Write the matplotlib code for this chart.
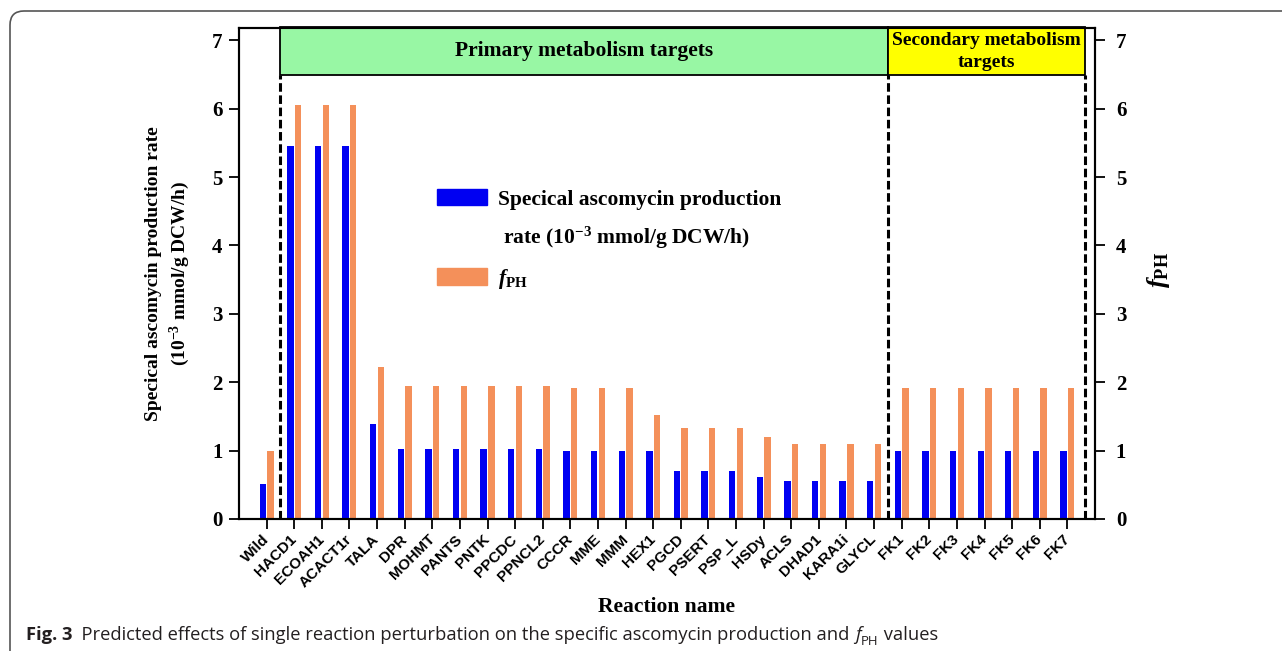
import matplotlib
matplotlib.use('Agg')
import matplotlib.pyplot as plt
import matplotlib.transforms as mtransforms
from matplotlib.patches import Rectangle, Patch, FancyBboxPatch
import numpy as np

plt.rcParams['mathtext.fontset'] = 'custom'
plt.rcParams['mathtext.rm'] = 'Liberation Serif:bold'
plt.rcParams['mathtext.bf'] = 'Liberation Serif:bold'
plt.rcParams['mathtext.it'] = 'Liberation Serif:italic:bold'

reactions = ['Wild', 'HACD1', 'ECOAH1', 'ACACT1r', 'TALA', 'DPR', 'MOHMT', 'PANTS',
             'PNTK', 'PPCDC', 'PPNCL2', 'CCCR', 'MME', 'MMM', 'HEX1', 'PGCD', 'PSERT',
             'PSP_L', 'HSDy', 'ACLS', 'DHAD1', 'KARA1i', 'GLYCL',
             'FK1', 'FK2', 'FK3', 'FK4', 'FK5', 'FK6', 'FK7']
# specific ascomycin production rate (1e-3 mmol/g DCW/h)
rate = [0.51, 5.45, 5.45, 5.45, 1.39, 1.03, 1.03, 1.03,
        1.03, 1.03, 1.03, 1.00, 1.00, 1.00, 1.00, 0.70, 0.70,
        0.70, 0.62, 0.56, 0.56, 0.56, 0.56,
        1.00, 1.00, 1.00, 1.00, 1.00, 1.00, 1.00]
# f_PH
fph = [1.00, 6.06, 6.06, 6.06, 2.23, 1.95, 1.95, 1.95,
       1.95, 1.95, 1.95, 1.91, 1.91, 1.91, 1.52, 1.33, 1.33,
       1.33, 1.20, 1.10, 1.10, 1.10, 1.10,
       1.91, 1.91, 1.91, 1.91, 1.91, 1.91, 1.91]

blue = '#0000F2'
orange = '#F4905A'
serif = 'Liberation Serif'

fig = plt.figure(figsize=(12.82, 6.51), dpi=100)
ax = fig.add_axes([239 / 1282, 1 - 519 / 651, (1095 - 239) / 1282, (519 - 28) / 651])

x = np.arange(len(reactions))
w = 0.23
ax.bar(x - 0.14, rate, w, color=blue, zorder=2)
ax.bar(x + 0.14, fph, w, color=orange, zorder=2)

ax.set_xlim(-1, len(reactions))
ax.set_ylim(0, 7.18)
ax.set_yticks(range(8))
ax.set_xticks(x)
ax.set_xticklabels(reactions, rotation=45, ha='right', va='center', rotation_mode='anchor',
                   fontfamily='Liberation Sans', fontweight='bold', fontsize=11)
ax.tick_params(axis='x', direction='out', length=7, width=1.3, pad=6)
ax.tick_params(axis='y', direction='out', length=7, width=1.3, pad=5)
for lab in ax.get_yticklabels():
    lab.set_fontfamily(serif)
    lab.set_fontweight('bold')
    lab.set_fontsize(15)
for sp in ax.spines.values():
    sp.set_linewidth(1.5)

ax.set_ylabel('Specical ascomycin production rate\n(10$^{\\mathrm{-3}}$ mmol/g DCW/h)',
              fontfamily=serif, fontweight='bold', fontsize=14, linespacing=1.35)
ax.yaxis.set_label_coords(-0.055, 0.5)
ax.set_xlabel('Reaction name', fontfamily=serif, fontweight='bold', fontsize=15.5)
ax.xaxis.set_label_coords(0.5, -0.158)

ax2 = ax.twinx()
ax2.set_ylim(ax.get_ylim())
ax2.set_yticks(range(8))
ax2.tick_params(axis='y', direction='out', length=7, width=1.3, pad=8)
for lab in ax2.get_yticklabels():
    lab.set_fontfamily(serif)
    lab.set_fontweight('bold')
    lab.set_fontsize(15)
ax2.set_ylabel('$\\mathit{f}_{\\mathrm{PH}}$', fontsize=19, rotation=90)
ax2.yaxis.set_label_coords(1.058, 0.507)
for sp in ax2.spines.values():
    sp.set_linewidth(1.5)

# group boxes and separators
ax.add_patch(Rectangle((0.5, 6.5), 22, 0.7, facecolor='#98F7A4', edgecolor='black',
                       lw=1.3, zorder=3, clip_on=False))
ax.add_patch(Rectangle((22.5, 6.5), 7.15, 0.7, facecolor='#FFFF00', edgecolor='black',
                       lw=1.3, zorder=3, clip_on=False))
ax.text(11.5, 6.84, 'Primary metabolism targets', ha='center', va='center',
        fontfamily=serif, fontweight='bold', fontsize=15.5, zorder=4)
ax.text(26.07, 6.84, 'Secondary metabolism\ntargets', ha='center', va='center',
        fontfamily=serif, fontweight='bold', fontsize=14, linespacing=1.35, zorder=4)
ax.vlines([0.5, 22.5, 29.65], 0, 6.5, colors='black', lw=2.2, linestyles=(0, (2.8, 1.2)), zorder=3)

handles = [Patch(color=blue), Patch(color='none'), Patch(color=orange)]
labels = ['Specical ascomycin production',
          ' rate (10$^{\\mathrm{-3}}$ mmol/g DCW/h)',
          '$\\mathit{f}_{\\mathrm{PH}}$']
leg = ax.legend(handles, labels, loc='upper left', bbox_to_anchor=(437 / 1282, 1 - 189 / 651),
                bbox_transform=fig.transFigure, frameon=False, handlelength=2.3,
                handleheight=0.8, handletextpad=0.55, labelspacing=0.72, borderpad=0,
                borderaxespad=0, prop={'family': serif, 'weight': 'bold', 'size': 15.5})

# outer rounded frame (open at the bottom and right, cropped like the source figure)
frame = FancyBboxPatch((10, -40), 1400, 651 - 11 + 40, boxstyle='round,pad=0,rounding_size=14',
                       transform=mtransforms.IdentityTransform(), facecolor='none',
                       edgecolor='#555555', lw=1.2)
fig.patches.append(frame)

# caption
cap_color = '#231F20'
cap_size = 13.2
t1 = fig.text(26 / 1282, 1 - 640 / 651, 'Fig. 3', fontfamily='Open Sans', fontweight='bold',
              fontsize=cap_size, color=cap_color, va='baseline')
t2 = ax.annotate('  Predicted effects of single reaction perturbation on the specific ascomycin production and ',
                 xy=(1, 0), xycoords=t1, va='bottom', ha='left', fontfamily='Open Sans',
                 fontsize=cap_size, color=cap_color, annotation_clip=False)
t3 = ax.annotate('f', xy=(1, 0), xycoords=t2, va='bottom', ha='left', fontfamily='Open Sans',
                 fontstyle='italic', fontsize=cap_size, color=cap_color, annotation_clip=False)
t4 = ax.annotate('PH', xy=(1, 0), xycoords=t3, xytext=(0.5, -3), textcoords='offset points',
                 va='bottom', ha='left', fontfamily='Open Sans', fontsize=9.5, color=cap_color,
                 annotation_clip=False)
t5 = ax.annotate(' values', xy=(1, 0), xycoords=t4, xytext=(0, 3), textcoords='offset points',
                 va='bottom', ha='left', fontfamily='Open Sans', fontsize=cap_size, color=cap_color,
                 annotation_clip=False)

fig.savefig('out.png', dpi=100)
